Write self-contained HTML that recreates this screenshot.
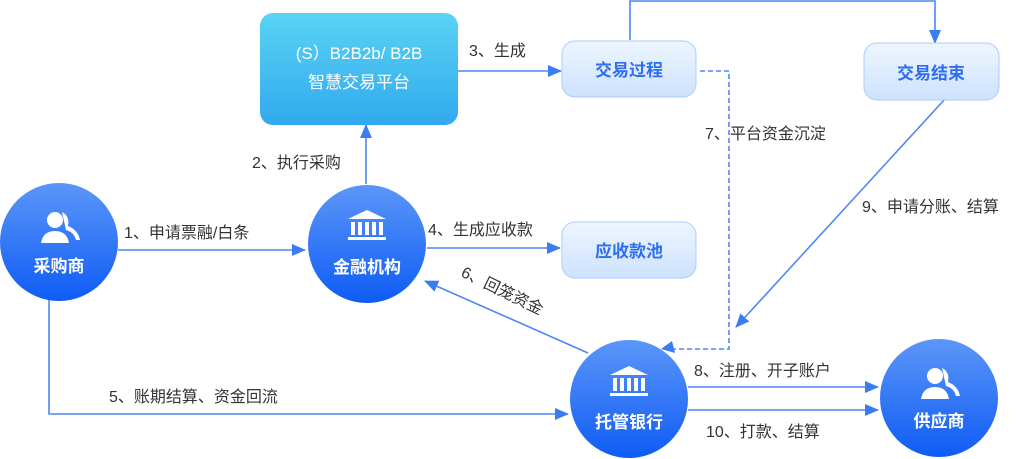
<!DOCTYPE html>
<html><head><meta charset="utf-8"><style>
html,body{margin:0;padding:0;background:#fff;}
svg{display:block;font-family:"Liberation Sans","Noto Sans CJK SC",sans-serif;}
.l{font-size:16px;fill:#333;}
</style></head><body>
<svg width="1024" height="459" viewBox="0 0 1024 459" xmlns="http://www.w3.org/2000/svg">
<defs>
<linearGradient id="cg" x1="0" y1="0" x2="0" y2="1"><stop offset="0" stop-color="#5b96f8"/><stop offset="1" stop-color="#0f5cf5"/></linearGradient>
<linearGradient id="pg" x1="0" y1="0" x2="0" y2="1"><stop offset="0" stop-color="#5ad3f4"/><stop offset="1" stop-color="#31a9ee"/></linearGradient>
<linearGradient id="bg" x1="0" y1="0" x2="0" y2="1"><stop offset="0" stop-color="#eef6ff"/><stop offset="1" stop-color="#cde2fd"/></linearGradient>
<marker id="b" markerWidth="14" markerHeight="12" refX="13" refY="6" orient="auto" markerUnits="userSpaceOnUse"><path d="M0,0 L14,6 L0,12 z" fill="#3b7cf2"/></marker>
</defs>
<g stroke="#4f86f3" stroke-width="1.6" fill="none">
<line x1="118" y1="250" x2="305" y2="250" marker-end="url(#b)"/>
<line x1="366" y1="184" x2="366" y2="125" marker-end="url(#b)"/>
<line x1="458" y1="71" x2="561" y2="71" marker-end="url(#b)"/>
<polyline points="630,40 630,1 935,1 935,43" marker-end="url(#b)"/>
<line x1="427" y1="248" x2="560" y2="248" marker-end="url(#b)"/>
<polyline points="49,300 49,414 568,414" marker-end="url(#b)"/>
<line x1="588" y1="353" x2="425" y2="281" marker-end="url(#b)"/>
<polyline points="700,71 729,71 729,349 672,349" stroke-dasharray="5,3"/>
<line x1="688" y1="387" x2="878" y2="387" marker-end="url(#b)"/>
<line x1="688" y1="410" x2="878" y2="410" marker-end="url(#b)"/>
<line x1="945" y1="99" x2="736" y2="327" marker-end="url(#b)"/>
</g>
<path d="M672,341 L661,349 L675,353 z" fill="#3b7cf2"/>
<rect x="260" y="13" width="198" height="112" rx="13" fill="url(#pg)"/>
<text x="359" y="59" text-anchor="middle" font-size="17" fill="#fff">(S）B2B2b/ B2B</text>
<text x="359" y="88" text-anchor="middle" font-size="17" fill="#fff">智慧交易平台</text>
<rect x="562" y="41" width="134" height="56" rx="13" fill="url(#bg)" stroke="#a9cdfb"/>
<text x="629" y="76" text-anchor="middle" font-size="17" font-weight="bold" fill="#2f6ef0">交易过程</text>
<rect x="864" y="43" width="135" height="57" rx="13" fill="url(#bg)" stroke="#a9cdfb"/>
<text x="931" y="79" text-anchor="middle" font-size="17" font-weight="bold" fill="#2f6ef0">交易结束</text>
<rect x="562" y="222" width="134" height="56" rx="13" fill="url(#bg)" stroke="#a9cdfb"/>
<text x="629" y="257" text-anchor="middle" font-size="17" font-weight="bold" fill="#2f6ef0">应收款池</text>
<g fill="url(#cg)">
<circle cx="59" cy="242" r="59"/><circle cx="367" cy="244" r="59"/>
<circle cx="629" cy="399" r="59"/><circle cx="939" cy="398" r="59"/>
</g>
<g fill="#fff">
<circle cx="55" cy="220" r="8"/><path d="M41,243 q2,-12 14,-12 q12,0 14,12 z"/>
<path d="M62,212 q8,4 6,14 q10,4 12,14 l-4,0 q-2,-8 -10,-10 z"/>
<circle cx="935" cy="376" r="8"/><path d="M921,399 q2,-12 14,-12 q12,0 14,12 z"/>
<path d="M942,368 q8,4 6,14 q10,4 12,14 l-4,0 q-2,-8 -10,-10 z"/>
<path d="M367,210 l19,9 h-38 z"/><rect x="351" y="222" width="4" height="13"/><rect x="358" y="222" width="4" height="13"/><rect x="365" y="222" width="4" height="13"/><rect x="372" y="222" width="4" height="13"/><rect x="379" y="222" width="4" height="13"/><rect x="348" y="237" width="38" height="3"/>
<path d="M629,366 l19,9 h-38 z"/><rect x="613" y="378" width="4" height="13"/><rect x="620" y="378" width="4" height="13"/><rect x="627" y="378" width="4" height="13"/><rect x="634" y="378" width="4" height="13"/><rect x="641" y="378" width="4" height="13"/><rect x="610" y="393" width="38" height="3"/>
</g>
<g font-size="17" font-weight="bold" fill="#fff" text-anchor="middle">
<text x="59" y="272">采购商</text><text x="367" y="273">金融机构</text>
<text x="629" y="428">托管银行</text><text x="939" y="427">供应商</text>
</g>
<g class="l">
<text x="124" y="238">1、申请票融/白条</text>
<text x="252" y="168">2、执行采购</text>
<text x="469" y="56">3、生成</text>
<text x="428" y="235">4、生成应收款</text>
<text x="109" y="402">5、账期结算、资金回流</text>
<text transform="translate(460,276) rotate(26)">6、回笼资金</text>
<text x="705" y="139">7、平台资金沉淀</text>
<text x="694" y="376">8、注册、开子账户</text>
<text x="862" y="212">9、申请分账、结算</text>
<text x="706" y="437">10、打款、结算</text>
</g>
</svg>
</body></html>
